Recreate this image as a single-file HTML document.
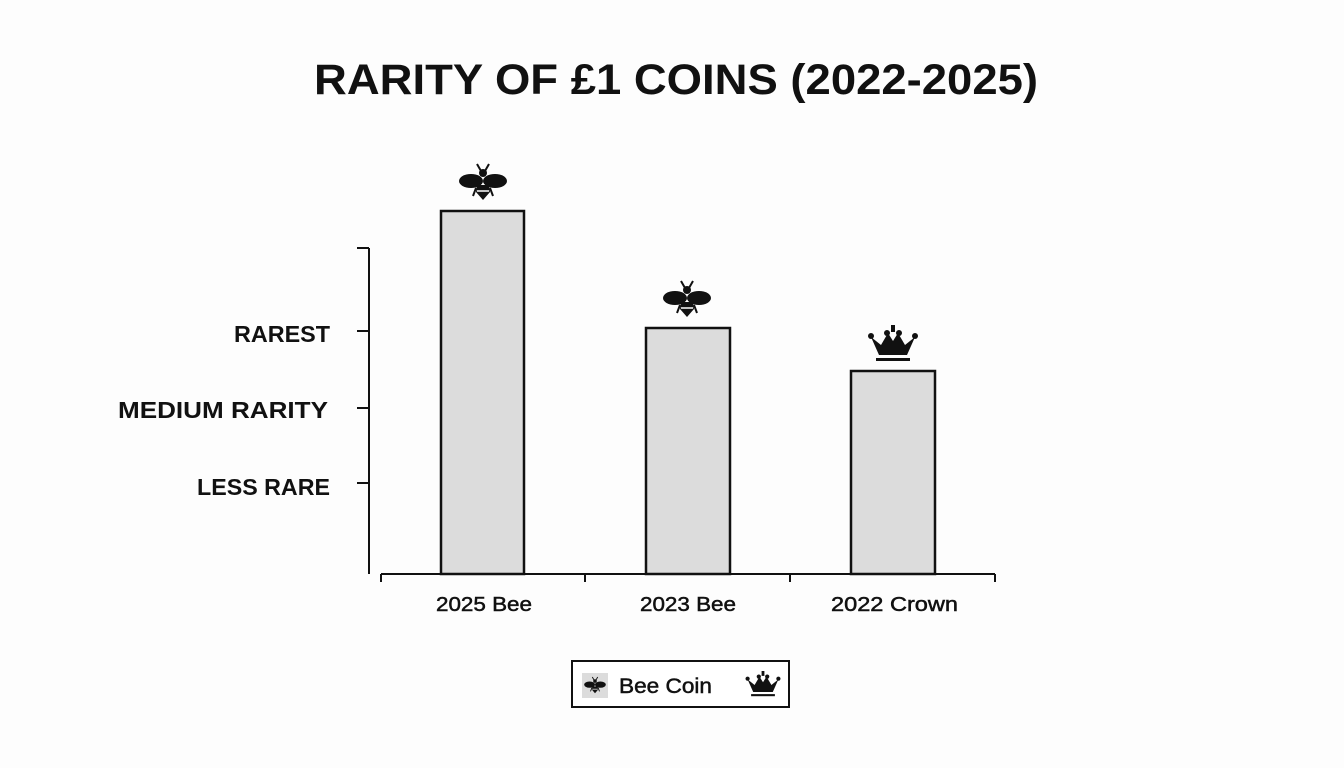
<!DOCTYPE html>
<html><head><meta charset="utf-8"><style>
body{margin:0;background:#fdfdfd;}
svg{display:block;font-family:"Liberation Sans",sans-serif;}
</style></head><body>
<svg width="1344" height="768" viewBox="0 0 1344 768">
<defs>
<g id="bee">
<path d="M-6,-20 L-2,-13 M6,-20 L2,-13" stroke="#111" stroke-width="2" fill="none"/>
<circle cx="0" cy="-11" r="4" fill="#111"/>
<ellipse cx="-12" cy="-3" rx="12" ry="7" fill="#111"/>
<ellipse cx="12" cy="-3" rx="12" ry="7" fill="#111"/>
<path d="M-6,1 L6,1 L7,8 L0,16 L-7,8 Z" fill="#111"/>
<path d="M-6,7 L6,7" stroke="#fff" stroke-width="1.5"/>
<path d="M-7,4 L-10,12 M7,4 L10,12" stroke="#111" stroke-width="2"/>
</g>
<g id="crown">
<path d="M-22,-8 L-14,10 L14,10 L22,-8 L12,0 L5,-12 L0,-4 L-5,-12 L-12,0 Z" fill="#111"/>
<circle cx="-22" cy="-9" r="3" fill="#111"/><circle cx="22" cy="-9" r="3" fill="#111"/>
<circle cx="-6" cy="-12" r="3" fill="#111"/><circle cx="6" cy="-12" r="3" fill="#111"/>
<rect x="-2" y="-20" width="4" height="7" fill="#111"/>
<rect x="-17" y="13" width="34" height="3" fill="#111"/>
</g>
</defs>
<text x="314" y="94" font-size="43" font-weight="bold" fill="#111" textLength="724" lengthAdjust="spacingAndGlyphs">RARITY OF £1 COINS (2022-2025)</text>
<g stroke="#111" stroke-width="2" fill="none">
<path d="M369,248 V574 M357,248 H369 M357,331 H369 M357,408 H369 M357,483 H369"/>
<path d="M381,574 H995 M381,574 V582 M585,574 V582 M790,574 V582 M995,574 V582"/>
</g>
<g fill="#dcdcdc" stroke="#111" stroke-width="2.5">
<rect x="441" y="211" width="83" height="363"/>
<rect x="646" y="328" width="84" height="246"/>
<rect x="851" y="371" width="84" height="203"/>
</g>
<use href="#bee" x="483" y="184"/>
<use href="#bee" x="687" y="301"/>
<use href="#crown" x="893" y="345"/>
<g font-size="23" font-weight="bold" fill="#111">
<text x="234" y="342" textLength="96" lengthAdjust="spacingAndGlyphs">RAREST</text>
<text x="118" y="418" textLength="210" lengthAdjust="spacingAndGlyphs">MEDIUM RARITY</text>
<text x="197" y="495" textLength="133" lengthAdjust="spacingAndGlyphs">LESS RARE</text>
</g>
<g font-size="20" fill="#111" stroke="#111" stroke-width="0.5">
<text x="436" y="611" textLength="96" lengthAdjust="spacingAndGlyphs">2025 Bee</text>
<text x="640" y="611" textLength="96" lengthAdjust="spacingAndGlyphs">2023 Bee</text>
<text x="831" y="611" textLength="127" lengthAdjust="spacingAndGlyphs">2022 Crown</text>
</g>
<rect x="572" y="661" width="217" height="46" fill="#fff" stroke="#111" stroke-width="2"/>
<rect x="582" y="673" width="26" height="25" fill="#dcdcdc"/>
<use href="#bee" x="595" y="686" transform="translate(595,686) scale(0.45) translate(-595,-686)"/>
<text x="619" y="693" font-size="21" fill="#111" stroke="#111" stroke-width="0.5" textLength="93" lengthAdjust="spacingAndGlyphs">Bee Coin</text>
<use href="#crown" x="763" y="685" transform="translate(763,685) scale(0.7) translate(-763,-685)"/>
</svg>
</body></html>
